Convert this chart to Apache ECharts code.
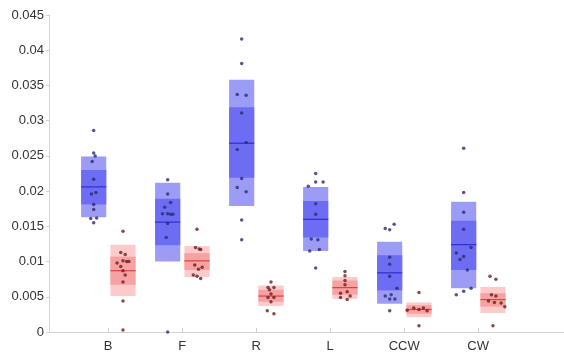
<!DOCTYPE html>
<html lang="en">
<head>
    <meta charset="UTF-8">
    <title>Box plot with points</title>
    <script src="https://cdn.jsdelivr.net/npm/echarts@6/dist/echarts.min.js"></script>
</head>
<body style="margin:0">
<div id="main" style="width: 564px;height: 353px;"></div>

<script type="text/javascript">
    var categories = ['B', 'F', 'R', 'L', 'CCW', 'CW'];
    var yTicks = [0, 0.005, 0.01, 0.015, 0.02, 0.025, 0.03, 0.035, 0.04, 0.045];

    // [low SD, low CI, mean, high CI, high SD] per category
    var blueStats = [
        [0.0163, 0.0181, 0.0206, 0.0230, 0.0249],
        [0.0100, 0.0123, 0.0156, 0.0189, 0.0212],
        [0.0179, 0.0219, 0.0268, 0.0319, 0.0358],
        [0.0115, 0.0134, 0.0160, 0.0186, 0.0206],
        [0.0040, 0.0059, 0.0084, 0.0109, 0.0128],
        [0.0062, 0.0088, 0.0124, 0.0158, 0.0185]
    ];
    var redStats = [
        [0.0051, 0.0067, 0.0087, 0.0107, 0.0124],
        [0.0078, 0.0088, 0.0101, 0.0112, 0.0122],
        [0.0037, 0.0043, 0.0051, 0.0060, 0.0066],
        [0.0047, 0.0053, 0.0063, 0.0073, 0.0078],
        [0.0021, 0.0026, 0.0032, 0.0038, 0.0042],
        [0.0027, 0.0036, 0.0046, 0.0055, 0.0064]
    ];

    // individual points per category
    var bluePoints = [
        [0.0286, 0.0254, 0.0250, 0.0242, 0.0217, 0.0196, 0.0198, 0.0181, 0.0174, 0.0161, 0.0162, 0.0155],
        [0.0216, 0.0196, 0.0184, 0.0177, 0.0168, 0.0168, 0.0167, 0.0167, 0.0154, 0.0134, 0.0000],
        [0.0416, 0.0381, 0.0337, 0.0336, 0.0311, 0.0269, 0.0259, 0.0218, 0.0205, 0.0199, 0.0159, 0.0131],
        [0.0225, 0.0207, 0.0213, 0.0213, 0.0182, 0.0167, 0.0132, 0.0131, 0.0115, 0.0117, 0.0091],
        [0.0153, 0.0147, 0.0145, 0.0106, 0.0096, 0.0079, 0.0062, 0.0051, 0.0053, 0.0047, 0.0047, 0.0030],
        [0.0261, 0.0198, 0.0170, 0.0146, 0.0120, 0.0112, 0.0107, 0.0103, 0.0088, 0.0053, 0.0058, 0.0062]
    ];
    var blueJitter = [
        [0, 0, 0.02, -0.02, 0, -0.03, 0.03, 0, 0, -0.04, 0.04, 0],
        [0, 0, 0.04, -0.04, -0.07, 0, 0.04, 0.07, 0, -0.02, 0],
        [0, 0, -0.06, 0.06, 0, 0.06, -0.06, 0, -0.06, 0.06, 0, 0],
        [0, -0.1, 0, 0.1, 0, 0, -0.06, 0.03, -0.08, 0.05, 0],
        [0.06, -0.06, 0, 0, 0, 0, 0.1, -0.06, 0.02, 0, 0.07, 0],
        [0, 0, 0, 0, 0.1, -0.1, 0, -0.05, 0.05, -0.1, 0, 0.1]
    ];
    var redPoints = [
        [0.0143, 0.0113, 0.0110, 0.0098, 0.0101, 0.0100, 0.0100, 0.0093, 0.0087, 0.0081, 0.0071, 0.0044, 0.0003],
        [0.0146, 0.0120, 0.0118, 0.0117, 0.0095, 0.0092, 0.0089, 0.0081, 0.0079, 0.0076],
        [0.0071, 0.0063, 0.0063, 0.0060, 0.0054, 0.0049, 0.0049, 0.0043, 0.0030, 0.0026],
        [0.0086, 0.0080, 0.0073, 0.0067, 0.0055, 0.0057, 0.0051, 0.0049, 0.0046],
        [0.0056, 0.0034, 0.0032, 0.0034, 0.0031, 0.0030, 0.0009],
        [0.0079, 0.0075, 0.0053, 0.0051, 0.0044, 0.0042, 0.0041, 0.0036, 0.0009]
    ];
    var redJitter = [
        [0, -0.03, 0.03, -0.08, 0, 0.05, 0.08, -0.03, 0, 0.03, 0, 0, 0],
        [0, -0.02, 0.03, 0.05, -0.03, 0.07, 0.02, -0.05, 0, 0.05],
        [0, -0.04, 0.04, -0.02, 0, -0.04, 0.04, 0, -0.05, 0.04],
        [0, 0, 0, 0, -0.06, 0.03, 0.07, -0.06, 0.03],
        [0, -0.07, 0, 0.06, -0.16, 0.11, 0],
        [-0.04, 0.04, -0.02, 0.04, -0.06, 0.02, 0.11, 0.16, 0]
    ];

    var myChart = echarts.init(document.getElementById('main'));

    function boxData(stats, shift) {
        return stats.map(function (s, i) {
            return [i + 1 + shift].concat(s);
        });
    }
    function pointData(points, jitter, shift) {
        var list = [];
        points.forEach(function (arr, i) {
            arr.forEach(function (v, j) {
                list.push([i + 1 + shift + jitter[i][j], v]);
            });
        });
        return list;
    }

    function makeRender(outer, inner, lineColor) {
        return function (params, api) {
            var x = api.value(0);
            var hw = 0.17;
            var a = api.coord([x - hw, api.value(5)]);
            var b = api.coord([x + hw, api.value(1)]);
            var c = api.coord([x - hw, api.value(4)]);
            var d = api.coord([x + hw, api.value(2)]);
            var m1 = api.coord([x - hw, api.value(3)]);
            var m2 = api.coord([x + hw, api.value(3)]);
            return {
                type: 'group',
                children: [
                    {type: 'rect', shape: {x: a[0], y: a[1], width: b[0] - a[0], height: b[1] - a[1]}, style: {fill: outer}},
                    {type: 'rect', shape: {x: c[0], y: c[1], width: d[0] - c[0], height: d[1] - c[1]}, style: {fill: inner}},
                    {type: 'line', shape: {x1: m1[0], y1: m1[1], x2: m2[0], y2: m2[1]}, style: {stroke: lineColor, lineWidth: 1.2}}
                ]
            };
        };
    }

    var option = {
        animation: false,
        grid: {left: 49, right: 0, top: 15, bottom: 21},
        xAxis: {
            type: 'value',
            min: 0.2,
            max: 7.16,
            splitLine: {show: false},
            axisLine: {lineStyle: {color: '#d4d4d4'}},
            axisTick: {inside: true, length: 4, lineStyle: {color: '#cfcfcf'}, customValues: [1, 2, 3, 4, 5, 6]},
            axisLabel: {
                customValues: [1, 2, 3, 4, 5, 6],
                formatter: function (v) { return categories[Math.round(v) - 1]; },
                color: '#333', fontSize: 13, fontFamily: 'Liberation Sans', margin: 8
            }
        },
        yAxis: {
            type: 'value',
            min: yTicks[0],
            max: yTicks[yTicks.length - 1],
            interval: 0.005,
            splitLine: {show: false},
            axisLine: {show: true, lineStyle: {color: '#d4d4d4'}},
            axisTick: {show: true, length: 3, lineStyle: {color: '#cfcfcf'}},
            axisLabel: {color: '#333', fontSize: 13, fontFamily: 'Liberation Sans', margin: 5}
        },
        series: [
            {type: 'custom', renderItem: makeRender('#9c9cf6', '#6d6df3', '#2e2ed6'), data: boxData(blueStats, -0.196), z: 1},
            {type: 'custom', renderItem: makeRender('#fbcaca', '#f6a2a2', '#e04040'), data: boxData(redStats, 0.2), z: 1},
            {type: 'scatter', symbolSize: 3.5, itemStyle: {color: '#2a2a72'}, data: pointData(bluePoints, blueJitter, -0.196), z: 3},
            {type: 'scatter', symbolSize: 3.5, itemStyle: {color: '#6e1c1c'}, data: pointData(redPoints, redJitter, 0.2), z: 3}
        ]
    };

    myChart.setOption(option);
</script>
</body>
</html>
